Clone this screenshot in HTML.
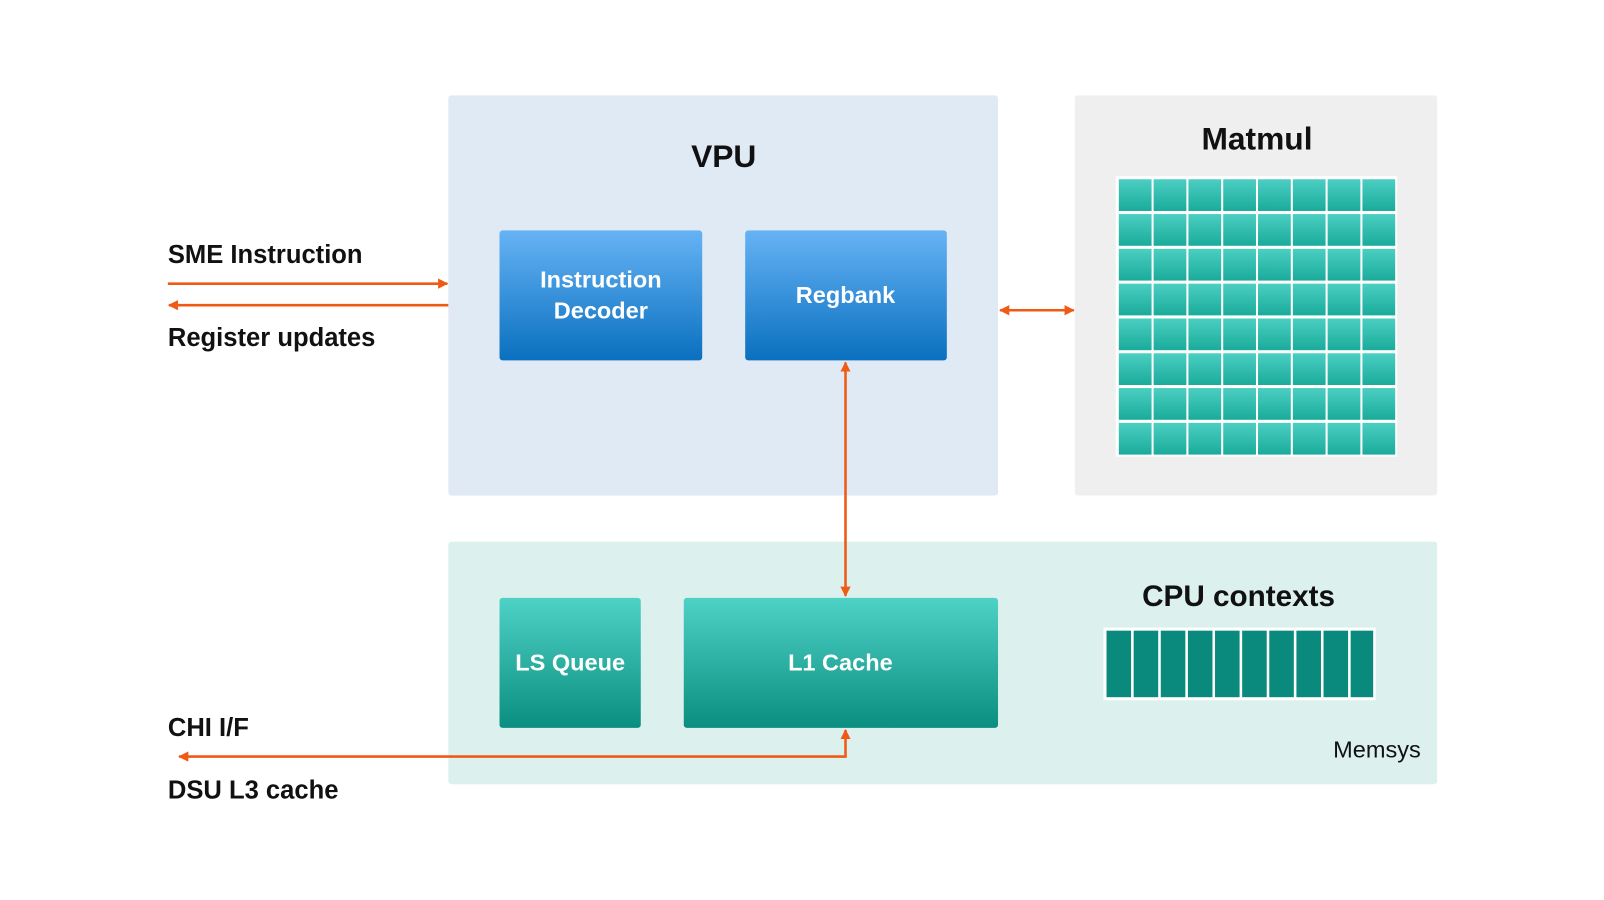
<!DOCTYPE html>
<html><head><meta charset="utf-8"><style>html,body{margin:0;padding:0;background:#fff}svg{display:block}</style></head><body>
<svg width="1604" height="900" viewBox="0 0 1567 879" xmlns="http://www.w3.org/2000/svg" font-family="Liberation Sans, sans-serif">
<defs>
<linearGradient id="b" x1="0" y1="0" x2="0" y2="1"><stop offset="0" stop-color="#66b3f5"/><stop offset="1" stop-color="#0a70bf"/></linearGradient>
<linearGradient id="t" x1="0" y1="0" x2="0" y2="1"><stop offset="0" stop-color="#4fd2c6"/><stop offset="1" stop-color="#0a8e7f"/></linearGradient>
<linearGradient id="c" x1="0" y1="0" x2="0" y2="1"><stop offset="0" stop-color="#4bcfc2"/><stop offset="1" stop-color="#1aab9b"/></linearGradient>
<marker id="a" viewBox="0 0 10 10" refX="9" refY="5" markerWidth="10" markerHeight="10" markerUnits="userSpaceOnUse" orient="auto-start-reverse"><path d="M0,0 L10,5 L0,10 z" fill="#f05a14"/></marker>
</defs>
<rect x="438" y="93" width="537" height="391" rx="3" fill="#dfeaf5"/>
<rect x="1050" y="93" width="354" height="391" rx="3" fill="#efefef"/>
<rect x="438" y="529" width="966" height="237" rx="3" fill="#dcf0ee"/>
<text x="707" y="163" font-size="31" font-weight="bold" text-anchor="middle" fill="#111">VPU</text>
<text x="1228" y="146" font-size="31" font-weight="bold" text-anchor="middle" fill="#111">Matmul</text>
<rect x="488" y="225" width="198" height="127" rx="3" fill="url(#b)"/>
<rect x="728" y="225" width="197" height="127" rx="3" fill="url(#b)"/>
<text x="587" y="281" font-size="23" font-weight="bold" text-anchor="middle" fill="#fff">Instruction</text>
<text x="587" y="311" font-size="23" font-weight="bold" text-anchor="middle" fill="#fff">Decoder</text>
<text x="826" y="296" font-size="23" font-weight="bold" text-anchor="middle" fill="#fff">Regbank</text>
<rect x="1090" y="172" width="275" height="274" fill="#fff"/>
<rect x="488" y="584" width="138" height="127" rx="3" fill="url(#t)"/>
<rect x="668" y="584" width="307" height="127" rx="3" fill="url(#t)"/>
<text x="557" y="655" font-size="23" font-weight="bold" text-anchor="middle" fill="#fff">LS Queue</text>
<text x="821" y="655" font-size="23" font-weight="bold" text-anchor="middle" fill="#fff">L1 Cache</text>
<text x="1210" y="592" font-size="29" font-weight="bold" text-anchor="middle" fill="#111">CPU contexts</text>
<rect x="1078" y="613" width="266" height="71" fill="#fff"/>
<text x="1388" y="740" font-size="23" text-anchor="end" fill="#111">Memsys</text>
<text x="164" y="257" font-size="25" font-weight="bold" fill="#111">SME Instruction</text>
<text x="164" y="338" font-size="25" font-weight="bold" fill="#111">Register updates</text>
<text x="164" y="719" font-size="25" font-weight="bold" fill="#111">CHI I/F</text>
<text x="164" y="780" font-size="25" font-weight="bold" fill="#111">DSU L3 cache</text>
<g stroke="#f05a14" stroke-width="2.5" fill="none">
<line x1="164" y1="277" x2="437" y2="277" marker-end="url(#a)"/>
<line x1="438" y1="298" x2="165" y2="298" marker-end="url(#a)"/>
<line x1="977" y1="303" x2="1049" y2="303" marker-start="url(#a)" marker-end="url(#a)"/>
<line x1="826" y1="354" x2="826" y2="582" marker-start="url(#a)" marker-end="url(#a)"/>
<polyline points="826,713 826,739 175,739" marker-start="url(#a)" marker-end="url(#a)"/>
</g>
<g fill="url(#c)">
<rect x="1093" y="175" width="32" height="31"/><rect x="1127" y="175" width="32" height="31"/><rect x="1161" y="175" width="32" height="31"/><rect x="1195" y="175" width="32" height="31"/><rect x="1229" y="175" width="32" height="31"/><rect x="1263" y="175" width="32" height="31"/><rect x="1297" y="175" width="32" height="31"/><rect x="1331" y="175" width="32" height="31"/>
<rect x="1093" y="209" width="32" height="31"/><rect x="1127" y="209" width="32" height="31"/><rect x="1161" y="209" width="32" height="31"/><rect x="1195" y="209" width="32" height="31"/><rect x="1229" y="209" width="32" height="31"/><rect x="1263" y="209" width="32" height="31"/><rect x="1297" y="209" width="32" height="31"/><rect x="1331" y="209" width="32" height="31"/>
<rect x="1093" y="243" width="32" height="31"/><rect x="1127" y="243" width="32" height="31"/><rect x="1161" y="243" width="32" height="31"/><rect x="1195" y="243" width="32" height="31"/><rect x="1229" y="243" width="32" height="31"/><rect x="1263" y="243" width="32" height="31"/><rect x="1297" y="243" width="32" height="31"/><rect x="1331" y="243" width="32" height="31"/>
<rect x="1093" y="277" width="32" height="31"/><rect x="1127" y="277" width="32" height="31"/><rect x="1161" y="277" width="32" height="31"/><rect x="1195" y="277" width="32" height="31"/><rect x="1229" y="277" width="32" height="31"/><rect x="1263" y="277" width="32" height="31"/><rect x="1297" y="277" width="32" height="31"/><rect x="1331" y="277" width="32" height="31"/>
<rect x="1093" y="311" width="32" height="31"/><rect x="1127" y="311" width="32" height="31"/><rect x="1161" y="311" width="32" height="31"/><rect x="1195" y="311" width="32" height="31"/><rect x="1229" y="311" width="32" height="31"/><rect x="1263" y="311" width="32" height="31"/><rect x="1297" y="311" width="32" height="31"/><rect x="1331" y="311" width="32" height="31"/>
<rect x="1093" y="345" width="32" height="31"/><rect x="1127" y="345" width="32" height="31"/><rect x="1161" y="345" width="32" height="31"/><rect x="1195" y="345" width="32" height="31"/><rect x="1229" y="345" width="32" height="31"/><rect x="1263" y="345" width="32" height="31"/><rect x="1297" y="345" width="32" height="31"/><rect x="1331" y="345" width="32" height="31"/>
<rect x="1093" y="379" width="32" height="31"/><rect x="1127" y="379" width="32" height="31"/><rect x="1161" y="379" width="32" height="31"/><rect x="1195" y="379" width="32" height="31"/><rect x="1229" y="379" width="32" height="31"/><rect x="1263" y="379" width="32" height="31"/><rect x="1297" y="379" width="32" height="31"/><rect x="1331" y="379" width="32" height="31"/>
<rect x="1093" y="413" width="32" height="31"/><rect x="1127" y="413" width="32" height="31"/><rect x="1161" y="413" width="32" height="31"/><rect x="1195" y="413" width="32" height="31"/><rect x="1229" y="413" width="32" height="31"/><rect x="1263" y="413" width="32" height="31"/><rect x="1297" y="413" width="32" height="31"/><rect x="1331" y="413" width="32" height="31"/>
</g>
<g fill="#0a8a7c">
<rect x="1081" y="616" width="24" height="65"/><rect x="1107.5" y="616" width="24" height="65"/><rect x="1134" y="616" width="24" height="65"/><rect x="1160.5" y="616" width="24" height="65"/><rect x="1187" y="616" width="24" height="65"/><rect x="1213.5" y="616" width="24" height="65"/><rect x="1240" y="616" width="24" height="65"/><rect x="1266.5" y="616" width="24" height="65"/><rect x="1293" y="616" width="24" height="65"/><rect x="1319.5" y="616" width="22" height="65"/>
</g>
</svg>
</body></html>
